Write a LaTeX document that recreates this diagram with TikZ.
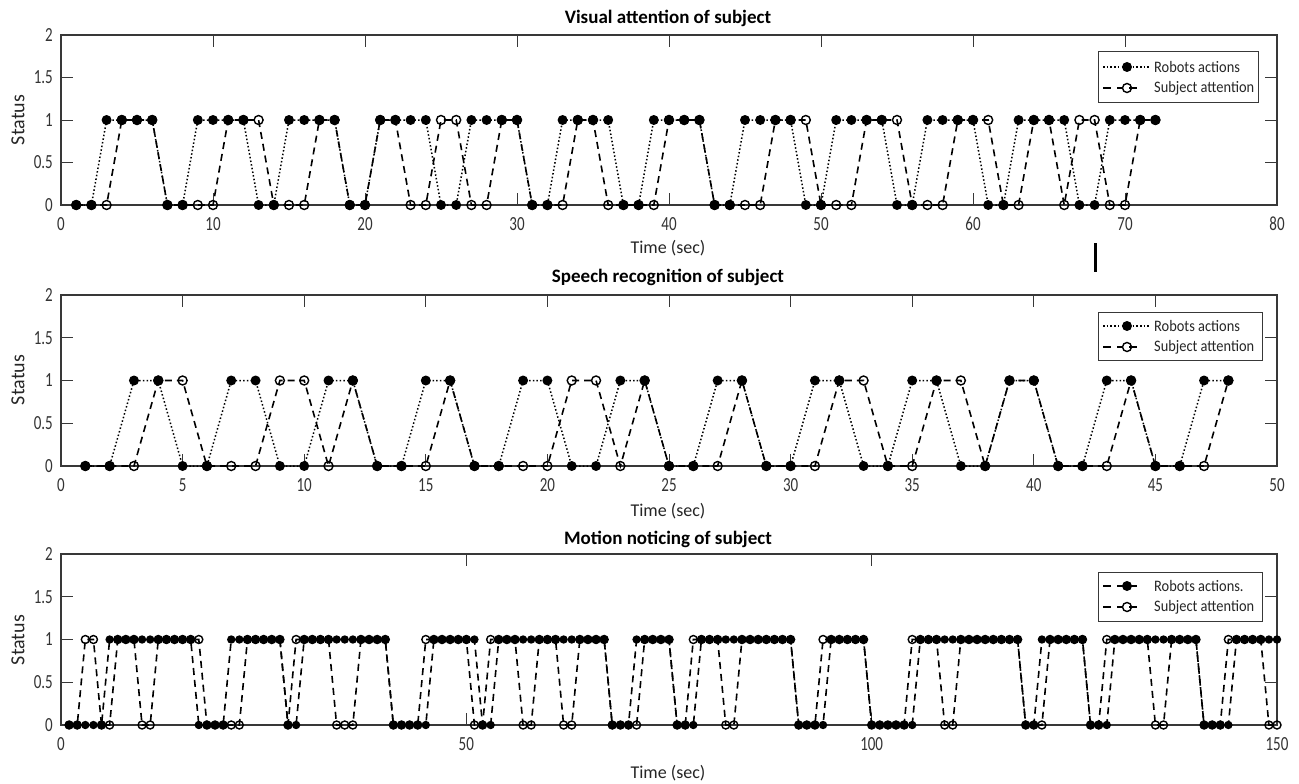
\documentclass[tikz,border=0pt]{standalone}
\usepackage{fontspec}
\setmainfont{Carlito}
\newfontfamily\tickfont[FakeStretch=0.75]{Carlito}
\newfontfamily\legfont[FakeStretch=0.9]{Carlito}
\begin{document}
\def\rA{0,0,1,1,1,1,0,0,1,1,1,1,0,0,1,1,1,1,0,0,1,1,1,1,0,0,1,1,1,1,0,0,1,1,1,1,0,0,1,1,1,1,0,0,1,1,1,1,0,0,1,1,1,1,0,0,1,1,1,1,0,0,1,1,1,1,0,0,1,1,1,1}
\def\sA{0,0,0,1,1,1,0,0,0,0,1,1,1,0,0,0,1,1,0,0,1,1,0,0,1,1,0,0,1,1,0,0,0,1,1,0,0,0,0,1,1,1,0,0,0,0,1,1,1,0,0,0,1,1,1,0,0,0,1,1,1,0,0,1,1,0,1,1,0,0,1,1}
\def\rB{0,0,1,1,0,0,1,1,0,0,1,1,0,0,1,1,0,0,1,1,0,0,1,1,0,0,1,1,0,0,1,1,0,0,1,1,0,0,1,1,0,0,1,1,0,0,1,1}
\def\sB{0,0,0,1,1,0,0,0,1,1,0,1,0,0,0,1,0,0,0,0,1,1,0,1,0,0,0,1,0,0,0,1,1,0,0,1,1,0,1,1,0,0,0,1,0,0,0,1}
\def\rC{0,0,0,0,0,1,1,1,1,1,1,1,1,1,1,1,0,0,0,0,1,1,1,1,1,1,1,0,0,1,1,1,1,1,1,1,1,1,1,1,0,0,0,0,0,1,1,1,1,1,1,0,0,1,1,1,1,1,1,1,1,1,1,1,1,1,1,0,0,0,1,1,1,1,1,0,0,0,1,1,1,1,1,1,1,1,1,1,1,1,0,0,0,0,1,1,1,1,1,0,0,0,0,0,0,1,1,1,1,1,1,1,1,1,1,1,1,1,0,0,1,1,1,1,1,1,0,0,0,1,1,1,1,1,1,1,1,1,1,1,0,0,0,0,1,1,1,1,1,1}
\def\sC{0,0,1,1,0,0,1,1,1,0,0,1,1,1,1,1,1,0,0,0,0,0,1,1,1,1,1,0,1,1,1,1,1,0,0,0,1,1,1,1,0,0,0,0,1,1,1,1,1,1,0,0,1,1,1,1,0,0,1,1,1,0,0,1,1,1,1,0,0,0,0,1,1,1,1,0,0,1,1,1,1,0,0,1,1,1,1,1,1,1,0,0,0,1,1,1,1,1,1,0,0,0,0,0,1,1,1,1,0,0,1,1,1,1,1,1,1,1,0,0,0,1,1,1,1,1,0,0,1,1,1,1,1,1,0,0,1,1,1,1,0,0,0,1,1,1,1,1,0,0}
\begin{tikzpicture}[x=1pt,y=-1pt,
  axisbox/.style={draw=black!78, line width=1.2pt},
  tickmark/.style={draw=black!78, line width=1pt},
  ticklab/.style={font=\tickfont\fontsize{20}{20}\selectfont, inner sep=0pt, text=black!80},
  titlelab/.style={font=\bfseries\fontsize{19}{19}\selectfont, inner sep=0pt, anchor=base},
  axlab/.style={font=\fontsize{18}{18}\selectfont, inner sep=0pt, text=black!85},
  robline/.style={draw=black, line width=1.5pt, dash pattern=on 1.5pt off 2.2pt},
  subline/.style={draw=black, line width=1.6pt, dash pattern=on 7pt off 5pt},
  robmark/.style={fill=black},
  submark/.style={draw=black, line width=1.4pt},
  legbox/.style={draw=black!78, line width=1pt, fill=white},
  legtext/.style={font=\legfont\fontsize{16}{16}\selectfont, inner sep=0pt, anchor=west, text=black!85}]
\useasboundingbox[fill=white] (0,0) rectangle (1299,784);

% ---------------- Panel 1 ----------------
\node[titlelab] (t1) at (668,24) {Visual attention of subject};
\node[axlab, anchor=base] (x1) at (668,253) {Time (sec)};
\node[axlab, rotate=90, font=\fontsize{20}{20}\selectfont] (s1) at (18,120) {Status};
\begin{scope}[shift={(61,205)}, x=15.2pt, y=85pt]
  \draw[axisbox] (0,0) rectangle (80,2);
  \foreach \t in {0,10,...,80} {
    \draw[tickmark] (\t,0) -- ++(0pt,12pt);
    \draw[tickmark] (\t,2) -- ++(0pt,-12pt);
    \node[ticklab, anchor=north] (xa\t) at ([yshift=-12pt]\t,0) {\t};
  }
  \foreach \v/\l [count=\i] in {0/0,0.5/0.5,1/1,1.5/1.5,2/2} {
    \draw[tickmark] (0,\v) -- ++(12pt,0pt);
    \draw[tickmark] (80,\v) -- ++(-12pt,0pt);
    \node[ticklab, anchor=east] (ya\i) at ([xshift=-8pt]0,\v) {\l};
  }
  \draw[robline] (1,0) \foreach \v [count=\t] in \rA { -- (\t,\v) };
  \draw[subline] (1,0) \foreach \v [count=\t] in \sA { -- (\t,\v) };
  \foreach \v [count=\t] in \rA { \fill[robmark] (\t,\v) circle[radius=5pt]; }
  \foreach \v [count=\t] in \sA { \draw[submark] (\t,\v) circle[radius=4.5pt]; }
\end{scope}
\draw[legbox] (1098,52) rectangle (1258,102);
\draw[robline] (1103,67) -- (1150,67);
\fill[robmark] (1127,67) circle[radius=5pt];
\node[legtext] (la1) at (1154,67) {Robots actions};
\draw[subline, dash pattern=on 8pt off 6pt on 6pt off 6pt on 8pt off 100pt] (1103,88) -- (1151,88);
\draw[submark] (1127,88) circle[radius=4.5pt];
\node[legtext] (lb1) at (1154,88) {Subject attention};

% stray vertical bar
\draw[line width=3pt, black] (1095,243) -- (1095,272);

% ---------------- Panel 2 ----------------
\node[titlelab] (t2) at (668,282) {Speech recognition of subject};
\node[axlab, anchor=base] (x2) at (668,516) {Time (sec)};
\node[axlab, rotate=90, font=\fontsize{20}{20}\selectfont] (s2) at (18,380) {Status};
\begin{scope}[shift={(61,466)}, x=24.32pt, y=85.5pt]
  \draw[axisbox] (0,0) rectangle (50,2);
  \foreach \t in {0,5,...,50} {
    \draw[tickmark] (\t,0) -- ++(0pt,12pt);
    \draw[tickmark] (\t,2) -- ++(0pt,-12pt);
    \node[ticklab, anchor=north] (xb\t) at ([yshift=-12pt]\t,0) {\t};
  }
  \foreach \v/\l [count=\i] in {0/0,0.5/0.5,1/1,1.5/1.5,2/2} {
    \draw[tickmark] (0,\v) -- ++(12pt,0pt);
    \draw[tickmark] (50,\v) -- ++(-12pt,0pt);
    \node[ticklab, anchor=east] (yb\i) at ([xshift=-8pt]0,\v) {\l};
  }
  \draw[robline] (1,0) \foreach \v [count=\t] in \rB { -- (\t,\v) };
  \draw[subline] (1,0) \foreach \v [count=\t] in \sB { -- (\t,\v) };
  \foreach \v [count=\t] in \rB { \fill[robmark] (\t,\v) circle[radius=5pt]; }
  \foreach \v [count=\t] in \sB { \draw[submark] (\t,\v) circle[radius=4.5pt]; }
\end{scope}
\draw[legbox] (1098,312) rectangle (1262,360);
\draw[robline] (1103,326) -- (1150,326);
\fill[robmark] (1127,326) circle[radius=5pt];
\node[legtext] (la2) at (1154,326) {Robots actions};
\draw[subline, dash pattern=on 8pt off 6pt on 6pt off 6pt on 8pt off 100pt] (1103,347) -- (1151,347);
\draw[submark] (1127,347) circle[radius=4.5pt];
\node[legtext] (lb2) at (1154,347) {Subject attention};

% ---------------- Panel 3 ----------------
\node[titlelab] (t3) at (668,544) {Motion noticing of subject};
\node[axlab, anchor=base] (x3) at (668,778) {Time (sec)};
\node[axlab, rotate=90, font=\fontsize{20}{20}\selectfont] (s3) at (18,640) {Status};
\begin{scope}[shift={(61,725)}, x=8.1067pt, y=85.5pt]
  \draw[axisbox] (0,0) rectangle (150,2);
  \foreach \t in {0,50,100,150} {
    \draw[tickmark] (\t,0) -- ++(0pt,12pt);
    \draw[tickmark] (\t,2) -- ++(0pt,-12pt);
    \node[ticklab, anchor=north] (xc\t) at ([yshift=-12pt]\t,0) {\t};
  }
  \foreach \v/\l [count=\i] in {0/0,0.5/0.5,1/1,1.5/1.5,2/2} {
    \draw[tickmark] (0,\v) -- ++(12pt,0pt);
    \draw[tickmark] (150,\v) -- ++(-12pt,0pt);
    \node[ticklab, anchor=east] (yc\i) at ([xshift=-8pt]0,\v) {\l};
  }
  \draw[subline] (1,0) \foreach \v [count=\t] in \rC { -- (\t,\v) };
  \draw[subline] (1,0) \foreach \v [count=\t] in \sC { -- (\t,\v) };
  \foreach \v [count=\t] in \rC { \fill[robmark] (\t,\v) circle[radius=4.2pt]; }
  \foreach \v [count=\t] in \sC { \draw[submark] (\t,\v) circle[radius=4pt]; }
\end{scope}
\draw[legbox] (1098,572) rectangle (1262,621);
\draw[subline, dash pattern=on 8pt off 6pt on 6pt off 6pt on 8pt off 100pt] (1103,586) -- (1151,586);
\fill[robmark] (1127,586) circle[radius=5pt];
\node[legtext] (la3) at (1154,586) {Robots actions.};
\draw[subline, dash pattern=on 8pt off 6pt on 6pt off 6pt on 8pt off 100pt] (1103,607) -- (1151,607);
\draw[submark] (1127,607) circle[radius=4.5pt];
\node[legtext] (lb3) at (1154,607) {Subject attention};
\end{tikzpicture}
\end{document}
